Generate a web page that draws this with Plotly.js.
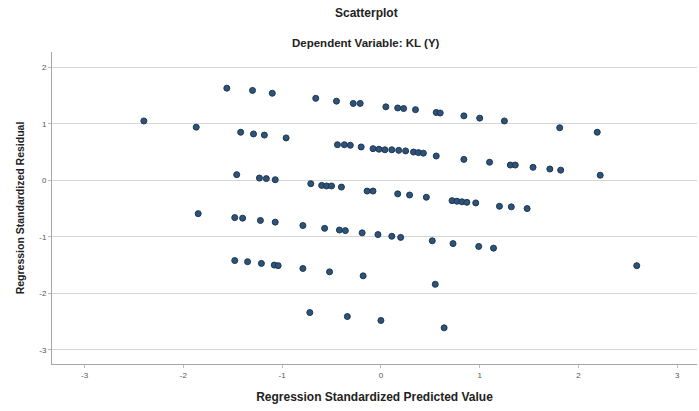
<!DOCTYPE html>
<html>
<head>
<meta charset="utf-8">
<script src="https://cdn.plot.ly/plotly-3.0.1.min.js"></script>
<style>html,body{margin:0;padding:0;background:#fff;}#chart{width:699px;height:411px;}</style>
</head>
<body>
<div id="chart"></div>
<script>
const chartTitle = "Scatterplot";
const chartSubtitle = "Dependent Variable: KL (Y)";
const xTitle = "Regression Standardized Predicted Value";
const yTitle = "Regression Standardized Residual";
const xTicks = [-3, -2, -1, 0, 1, 2, 3];
const yTicks = [-3, -2, -1, 0, 1, 2];

const predicted = [
  -2.40,-1.87,-1.56,-1.30,-1.10,-0.66,-0.45,-0.28,-0.21,0.05,0.17,0.23,0.35,0.56,0.60,0.84,1.00,1.25,1.81,2.19,
  -1.42,-1.29,-1.18,-0.96,-0.44,-0.37,-0.31,-0.20,-0.08,-0.02,0.04,0.11,0.18,0.25,0.33,0.38,0.43,0.56,0.84,1.10,1.31,1.36,1.54,1.71,1.82,2.22,
  -1.46,-1.23,-1.16,-1.07,-0.71,-0.60,-0.55,-0.50,-0.40,-0.14,-0.08,0.17,0.29,0.46,0.72,0.77,0.82,0.87,0.96,1.20,1.32,1.48,
  -1.85,-1.48,-1.40,-1.22,-1.07,-0.79,-0.57,-0.42,-0.36,-0.19,-0.03,0.11,0.20,0.52,0.73,0.99,1.14,
  -1.48,-1.35,-1.21,-1.08,-1.04,-0.79,-0.52,-0.18,0.55,2.59,
  -0.72,-0.34,0.00,0.64
];
const residual = [
  1.05,0.94,1.63,1.59,1.54,1.45,1.40,1.36,1.36,1.30,1.28,1.27,1.25,1.20,1.19,1.14,1.10,1.05,0.93,0.85,
  0.85,0.82,0.80,0.75,0.63,0.63,0.62,0.59,0.56,0.55,0.54,0.54,0.53,0.52,0.50,0.49,0.48,0.43,0.37,0.32,0.27,0.27,0.23,0.20,0.18,0.09,
  0.10,0.04,0.03,0.01,-0.06,-0.09,-0.10,-0.10,-0.12,-0.19,-0.19,-0.24,-0.26,-0.30,-0.36,-0.37,-0.38,-0.39,-0.40,-0.46,-0.47,-0.50,
  -0.59,-0.66,-0.67,-0.71,-0.74,-0.80,-0.85,-0.88,-0.89,-0.93,-0.96,-0.99,-1.01,-1.07,-1.12,-1.17,-1.20,
  -1.42,-1.44,-1.47,-1.50,-1.51,-1.56,-1.62,-1.69,-1.84,-1.51,
  -2.34,-2.41,-2.48,-2.61
];

const fontFam = '"Liberation Sans", Arial, sans-serif';

const trace = {
  type: 'scatter',
  mode: 'markers',
  x: predicted,
  y: residual,
  marker: {size: 6, color: '#2d5378', line: {width: 1, color: '#1d3652'}},
  hoverinfo: 'x+y'
};

const layout = {
  width: 699, height: 411,
  margin: {l: 52, r: 2, t: 52, b: 47, pad: 0},
  paper_bgcolor: '#ffffff', plot_bgcolor: '#ffffff',
  showlegend: false,
  font: {family: fontFam, color: '#333'},
  xaxis: {
    range: [-3.33, 3.2],
    tickvals: xTicks, ticktext: xTicks.map(String),
    showgrid: false, zeroline: false,
    showline: true, linecolor: '#a6a6a6', linewidth: 1,
    ticks: 'outside', ticklen: 3, tickcolor: '#bbbbbb',
    tickfont: {size: 8, color: '#555'},
    title: {text: '<b>' + xTitle + '</b>', font: {size: 12, color: '#222', family: fontFam}, standoff: 14}
  },
  yaxis: {
    range: [-3.25, 2.27],
    tickvals: yTicks, ticktext: yTicks.map(String),
    showgrid: true, gridcolor: '#d6d6d6', gridwidth: 1, zeroline: false,
    showline: true, linecolor: '#a6a6a6', linewidth: 1,
    ticks: 'outside', ticklen: 3, tickcolor: '#bbbbbb',
    tickfont: {size: 8, color: '#555'},
    title: {text: '<b>' + yTitle + '</b>', font: {size: 10.5, color: '#222', family: fontFam}, standoff: 12}
  },
  annotations: [
    {text: '<b>' + chartTitle + '</b>', xref: 'paper', yref: 'paper', x: 0.487, y: 1, yshift: 39, showarrow: false,
     font: {size: 12, color: '#222', family: fontFam}, xanchor: 'center', yanchor: 'middle'},
    {text: '<b>' + chartSubtitle + '</b>', xref: 'paper', yref: 'paper', x: 0.487, y: 1, yshift: 9, showarrow: false,
     font: {size: 11.5, color: '#222', family: fontFam}, xanchor: 'center', yanchor: 'middle'}
  ]
};

Plotly.newPlot('chart', [trace], layout, {displayModeBar: false, staticPlot: true});
</script>
</body>
</html>
